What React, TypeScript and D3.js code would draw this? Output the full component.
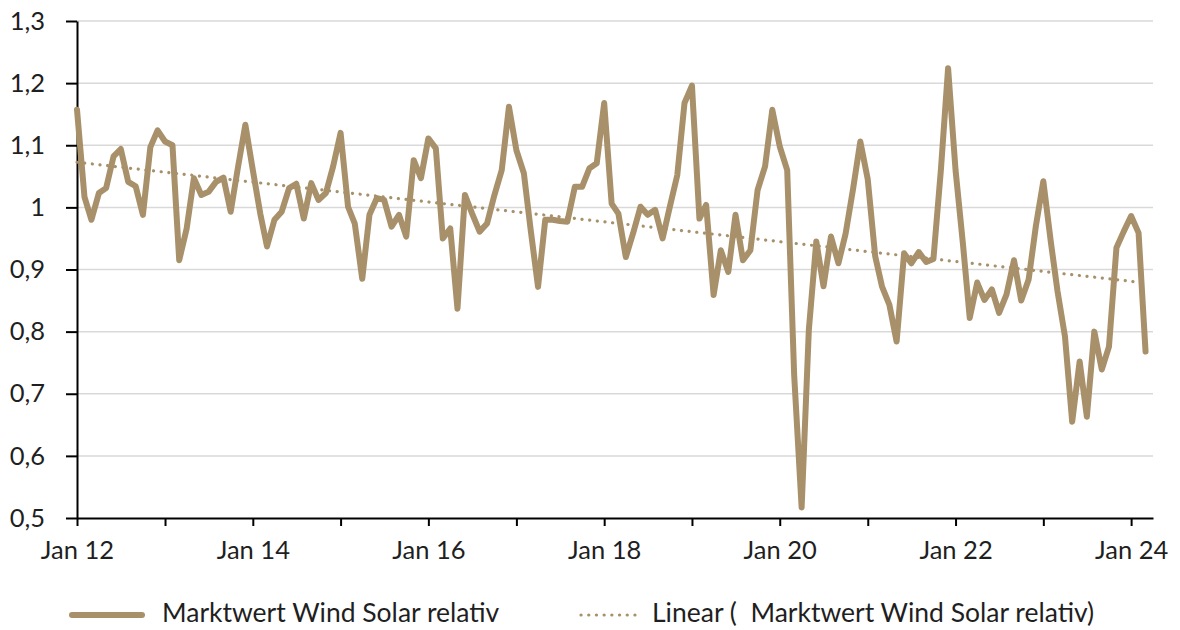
import { useRef, useEffect } from 'react';
import * as d3 from 'd3';

// Monatswerte ab Jan 2012 (relativer Marktwert Wind/Solar)
const startMonth = new Date(2012, 0, 1);
const axisEnd = new Date(2024, 3, 1);

const marktwert = [
  1.157, 1.017, 0.98, 1.023, 1.031, 1.082, 1.094, 1.041, 1.034, 0.988, 1.097, 1.124,
  1.106, 1.1, 0.915, 0.966, 1.047, 1.02, 1.025, 1.041, 1.048, 0.993, 1.066, 1.133,
  1.06, 0.99, 0.937, 0.98, 0.993, 1.031, 1.038, 0.982, 1.039, 1.012, 1.023, 1.066,
  1.12, 1.001, 0.974, 0.885, 0.988, 1.015, 1.012, 0.969, 0.988, 0.953, 1.076, 1.047,
  1.111, 1.095, 0.95, 0.966, 0.837, 1.02, 0.99, 0.961, 0.974, 1.019, 1.06, 1.162,
  1.092, 1.055, 0.965, 0.872, 0.98, 0.98, 0.978, 0.977, 1.033, 1.033, 1.063, 1.071,
  1.168, 1.006, 0.99, 0.92, 0.958, 1.001, 0.988, 0.996, 0.95, 1.001, 1.052, 1.168,
  1.196, 0.982, 1.004, 0.859, 0.931, 0.896, 0.988, 0.915, 0.931, 1.028, 1.066, 1.157,
  1.098, 1.06, 0.73, 0.517, 0.803, 0.945, 0.873, 0.953, 0.91, 0.958, 1.03, 1.106,
  1.045, 0.921, 0.873, 0.843, 0.784, 0.926, 0.91, 0.928, 0.912, 0.917, 1.06, 1.224,
  1.06, 0.94, 0.822, 0.879, 0.851, 0.868, 0.83, 0.86, 0.915, 0.85, 0.884, 0.97,
  1.042, 0.945, 0.865, 0.792, 0.655, 0.752, 0.663, 0.8, 0.739, 0.776, 0.935, 0.961,
  0.986, 0.959, 0.768,
];

const yTicks = [0.5, 0.6, 0.7, 0.8, 0.9, 1.0, 1.1, 1.2, 1.3];
const tickYears = [2012, 2013, 2014, 2015, 2016, 2017, 2018, 2019, 2020, 2021, 2022, 2023, 2024];
const labelYears = [2012, 2014, 2016, 2018, 2020, 2022, 2024];

const seriesName = 'Marktwert Wind Solar relativ';
const trendName = 'Linear (\u00a0 Marktwert Wind Solar relativ)';

const lineColor = '#a8916a';
const textColor = '#1f1f1f';
const font = 'Lato, "Open Sans", sans-serif';

const W = 1180;
const H = 630;
const margin = { top: 21, right: 27, bottom: 112, left: 77 };

const fmtY = (v: number) => String(+v.toFixed(1)).replace('.', ',');

export default function App() {
  const svgRef = useRef<SVGSVGElement>(null);

  useEffect(() => {
    if (!svgRef.current) return;
    const svg = d3.select(svgRef.current);
    svg.selectAll('*').remove();

    const x = d3
      .scaleTime()
      .domain([startMonth, axisEnd])
      .range([margin.left, W - margin.right]);
    const y = d3
      .scaleLinear()
      .domain([0.5, 1.3])
      .range([H - margin.bottom, margin.top]);

    const points = marktwert.map((v, i) => ({ date: d3.timeMonth.offset(startMonth, i), v }));

    // Gridlines
    svg
      .append('g')
      .selectAll('line')
      .data(yTicks.filter((t) => t > 0.5))
      .join('line')
      .attr('x1', margin.left)
      .attr('x2', W - margin.right)
      .attr('y1', (d) => y(d))
      .attr('y2', (d) => y(d))
      .attr('stroke', '#d9d9d9')
      .attr('stroke-width', 1.5);

    // Y axis
    const yAxis = svg
      .append('g')
      .attr('transform', `translate(${margin.left},0)`)
      .call(d3.axisLeft(y).tickValues(yTicks).tickSize(11).tickSizeOuter(0).tickPadding(21).tickFormat((d) => fmtY(+d)));
    yAxis.select('.domain').attr('stroke', '#000').attr('stroke-width', 2);
    yAxis.selectAll('.tick line').attr('stroke', '#000').attr('stroke-width', 2);
    yAxis
      .selectAll('.tick text')
      .attr('font-family', font)
      .attr('font-size', 25.5)
      .attr('fill', textColor);

    // X axis
    const xAxis = svg
      .append('g')
      .attr('transform', `translate(0,${H - margin.bottom})`)
      .call(
        d3
          .axisBottom(x)
          .tickValues(tickYears.map((yr) => new Date(yr, 0, 1)))
          .tickSize(8)
          .tickSizeOuter(0)
          .tickPadding(15)
          .tickFormat((d) => {
            const yr = (d as Date).getFullYear();
            return labelYears.includes(yr) ? `Jan ${String(yr).slice(2)}` : '';
          }),
      );
    xAxis.select('.domain').attr('stroke', '#000').attr('stroke-width', 2);
    xAxis.selectAll('.tick line').attr('stroke', '#000').attr('stroke-width', 2);
    xAxis
      .selectAll('.tick text')
      .attr('font-family', font)
      .attr('font-size', 25.5)
      .attr('fill', textColor);

    // Series line
    const line = d3
      .line<{ date: Date; v: number }>()
      .x((d) => x(d.date))
      .y((d) => y(d.v));
    svg
      .append('path')
      .datum(points)
      .attr('d', line)
      .attr('fill', 'none')
      .attr('stroke', lineColor)
      .attr('stroke-width', 6)
      .attr('stroke-linejoin', 'round')
      .attr('stroke-linecap', 'round');

    // Linear trend (least squares over time)
    const xs = points.map((p) => +p.date);
    const ys = points.map((p) => p.v);
    const mx = d3.mean(xs) as number;
    const my = d3.mean(ys) as number;
    const slope =
      d3.sum(xs, (xv, i) => (xv - mx) * (ys[i] - my)) / d3.sum(xs, (xv) => (xv - mx) ** 2);
    const first = points[0].date;
    const last = points[points.length - 1].date;
    const trend = [first, last].map((d) => ({ date: d, v: my + slope * (+d - mx) }));
    svg
      .append('path')
      .datum(trend)
      .attr('d', line)
      .attr('fill', 'none')
      .attr('stroke', lineColor)
      .attr('stroke-width', 3.2)
      .attr('stroke-linecap', 'round')
      .attr('stroke-dasharray', '0.1 7.6');

    // Legend
    const legendY = 615;
    const lg = svg.append('g');
    lg.append('line')
      .attr('x1', 72)
      .attr('x2', 142)
      .attr('y1', legendY)
      .attr('y2', legendY)
      .attr('stroke', lineColor)
      .attr('stroke-width', 6)
      .attr('stroke-linecap', 'round');
    lg.append('text')
      .attr('x', 162)
      .attr('y', legendY)
      .attr('dominant-baseline', 'middle')
      .attr('font-family', font)
      .attr('font-size', 26.5)
      .attr('fill', textColor)
      .text(seriesName);
    lg.append('line')
      .attr('x1', 581)
      .attr('x2', 641)
      .attr('y1', legendY)
      .attr('y2', legendY)
      .attr('stroke', lineColor)
      .attr('stroke-width', 3.2)
      .attr('stroke-linecap', 'round')
      .attr('stroke-dasharray', '0.1 7.6');
    lg.append('text')
      .attr('x', 652)
      .attr('y', legendY)
      .attr('dominant-baseline', 'middle')
      .attr('font-family', font)
      .attr('font-size', 26.5)
      .attr('fill', textColor)
      .text(trendName);
  }, []);

  return (
    <svg
      ref={svgRef}
      width={W}
      height={H}
      style={{ position: 'absolute', left: 0, top: 0, background: '#fff' }}
    />
  );
}
